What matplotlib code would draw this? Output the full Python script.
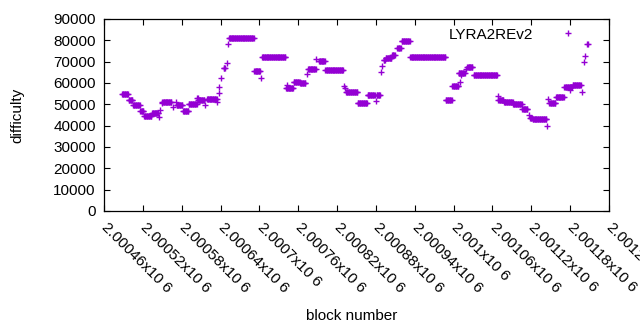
import matplotlib
matplotlib.use("Agg")
import matplotlib.pyplot as plt
import numpy as np

plt.rcParams['font.family'] = ['Liberation Sans', 'DejaVu Sans']

# difficulty runs: block range (inclusive) with constant difficulty
run_start = [2000488, 2000498, 2000505, 2000516, 2000522, 2000534, 2000545, 2000547,
             2000549, 2000550, 2000567, 2000571, 2000572, 2000582, 2000591, 2000604,
             2000605, 2000616, 2000619, 2000635, 2000637, 2000638, 2000641, 2000645,
             2000650, 2000652, 2000653, 2000692, 2000703, 2000704, 2000741, 2000742,
             2000753, 2000763, 2000774, 2000775, 2000788, 2000792, 2000802, 2000830,
             2000832, 2000834, 2000852, 2000867, 2000880, 2000881, 2000888, 2000890,
             2000892, 2000895, 2000905, 2000913, 2000920, 2000933, 2000988, 2000998,
             2001008, 2001010, 2001011, 2001019, 2001020, 2001022, 2001031, 2001068,
             2001069, 2001078, 2001092, 2001106, 2001117, 2001118, 2001122, 2001145,
             2001146, 2001148, 2001158, 2001171, 2001180, 2001184, 2001198, 2001201,
             2001203, 2001206]
run_end = [2000497, 2000504, 2000515, 2000521, 2000533, 2000544, 2000545, 2000547,
           2000549, 2000564, 2000567, 2000571, 2000581, 2000590, 2000603, 2000605,
           2000615, 2000616, 2000634, 2000635, 2000637, 2000638, 2000641, 2000647,
           2000650, 2000652, 2000691, 2000701, 2000703, 2000740, 2000752, 2000742,
           2000762, 2000771, 2000774, 2000787, 2000788, 2000801, 2000829, 2000830,
           2000832, 2000851, 2000866, 2000878, 2000880, 2000886, 2000888, 2000890,
           2000894, 2000904, 2000909, 2000918, 2000932, 2000987, 2000997, 2001007,
           2001017, 2001010, 2001011, 2001019, 2001020, 2001029, 2001067, 2001068,
           2001077, 2001091, 2001105, 2001114, 2001117, 2001121, 2001143, 2001145,
           2001146, 2001157, 2001170, 2001183, 2001180, 2001196, 2001198, 2001201,
           2001203, 2001207]
run_diff = [54700, 51900, 49500, 47000, 44500, 45800, 44200, 47300,
            50500, 51000, 48900, 51200, 49600, 47100, 50200, 53100,
            52000, 49500, 52700, 51000, 55200, 58300, 62200, 66900,
            69500, 78100, 80900, 65500, 62200, 72000, 57500, 59000,
            60500, 59800, 64000, 66400, 71200, 70300, 66000, 58600,
            57500, 55600, 50800, 54400, 51600, 54300, 65300, 68100,
            70800, 71600, 73100, 76500, 79700, 72300, 52000, 58800,
            64800, 60600, 63700, 66600, 67600, 67600, 63600, 53700,
            52000, 51000, 50000, 47700, 45000, 43400, 43100, 39800,
            52300, 50500, 53600, 58300, 56700, 59000, 55900, 70000,
            72700, 78300]

tick_blocks = list(range(2000460, 2001241, 60))
tick_labels = [f"{b / 1e6:g}x10 6" for b in tick_blocks]
y_ticks = list(range(0, 90001, 10000))

blocks = np.concatenate([np.arange(s, e + 1) for s, e in zip(run_start, run_end)])
diffs = np.concatenate([np.full(e - s + 1, d) for s, e, d in zip(run_start, run_end, run_diff)])

fig = plt.figure(figsize=(6.4, 3.3), dpi=100)
ax = fig.add_axes([104 / 640, 1 - 211 / 330, 505 / 640, 192 / 330])

ax.plot(blocks, diffs, linestyle='none', marker='+', markersize=5, mew=1,
        color='#9400d3', label='LYRA2REv2')

ax.set_xlim(2000460, 2001240)
ax.set_ylim(0, 90000)
ax.set_yticks(y_ticks)
ax.set_yticklabels([str(v) for v in y_ticks])
ax.set_xticks(tick_blocks)
ax.set_xticklabels(tick_labels, rotation=-45, ha='left', va='center',
                   rotation_mode='anchor')

ax.tick_params(direction='in', length=4, width=0.8, top=True, right=True,
               labelsize=11, colors='black')
ax.tick_params(axis='x', pad=10)
ax.tick_params(axis='y', pad=6)
for s in ax.spines.values():
    s.set_linewidth(0.9)

ax.set_xlabel('block number', fontsize=11)
ax.xaxis.set_label_coords(0.49, -0.547)
ax.xaxis.label.set_va('center')
ax.set_ylabel('difficulty', fontsize=11)
ax.yaxis.set_label_coords(-0.172, 0.5)
ax.yaxis.label.set_va('center')

ax.legend(loc='upper right', bbox_to_anchor=(0.964, 0.955), frameon=False,
          markerfirst=False, handlelength=3, handletextpad=0.8,
          borderpad=0, borderaxespad=0, fontsize=11)

fig.savefig('out.png', dpi=100)
